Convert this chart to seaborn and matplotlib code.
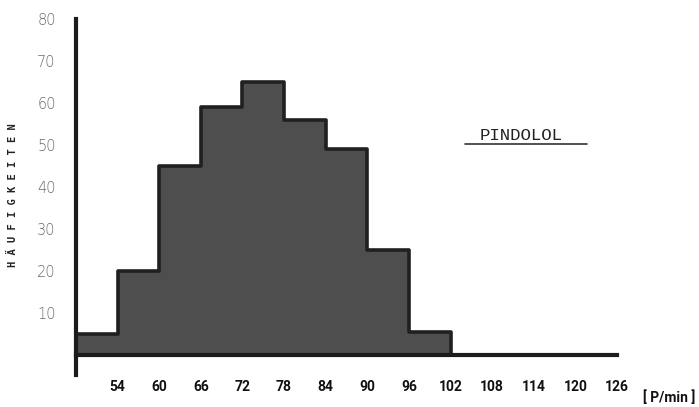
import matplotlib
matplotlib.use("Agg")
import matplotlib.pyplot as plt
from matplotlib.lines import Line2D
import seaborn as sns
import pandas as pd

# ---- data ----
bin_edges = [48, 54, 60, 66, 72, 78, 84, 90, 96, 102]
counts = [5, 20, 45, 59, 65, 56, 49, 25, 5.5]
x_ticks = [54, 60, 66, 72, 78, 84, 90, 96, 102, 108, 114, 120, 126]
y_ticks = [10, 20, 30, 40, 50, 60, 70, 80]
title_text = "PINDOLOL"
y_label = "HÄUFIGKEITEN"
x_unit = "[ P/min ]"

df = pd.DataFrame({
    "puls": [(a + b) / 2 for a, b in zip(bin_edges[:-1], bin_edges[1:])],
    "n": counts,
})

sns.set_style("white")
plt.rcParams["font.family"] = ["DejaVu Sans"]

fig = plt.figure(figsize=(6.99, 4.07), dpi=100)
ax = fig.add_axes([0.1087, 0.0786, 0.774, 0.8747])

sns.histplot(data=df, x="puls", weights="n", bins=bin_edges, ax=ax,
             color="#4e4e4e", alpha=1.0, edgecolor="#202020", linewidth=2.6,
             element="step", fill=True)

ax.set_xlim(48, 126)
ax.set_ylim(-4.8, 80)

ink = "#1c1c1c"
for s in ["top", "right"]:
    ax.spines[s].set_visible(False)
ax.spines["left"].set_color(ink)
ax.spines["left"].set_linewidth(3.0)
ax.spines["bottom"].set_position(("data", 0))
ax.spines["bottom"].set_color(ink)
ax.spines["bottom"].set_linewidth(3.0)
ax.spines["left"].set_bounds(-4.8, 80)

ax.set_xticks(x_ticks)
ax.set_xticklabels([str(v) for v in x_ticks],
                   family=["Roboto", "DejaVu Sans"],
                   fontweight="bold", fontsize=10, color="#111111")
ax.set_yticks(y_ticks)
ax.set_yticklabels([str(v) for v in y_ticks], fontsize=10.5, color="#6a6a6a",
                   fontweight="light")
ax.tick_params(axis="x", direction="out", length=13, width=2.2, color=ink, pad=5)
ax.tick_params(axis="y", direction="out", length=6.5, width=2.0, color=ink, pad=8)
ax.set_xlabel("")
ax.set_ylabel("")

# vertical spaced label
fig.text(12.5 / 699, 1 - 195 / 407, " ".join(y_label), rotation=90,
         ha="center", va="center", fontsize=7.5, fontweight="bold",
         family=["DejaVu Sans Mono"], color="#222222")

# unit label
fig.text(695 / 699, 1 - 398 / 407, x_unit, ha="right", va="center",
         fontsize=10, fontweight="bold",
         family=["Roboto", "DejaVu Sans"], color="#111111")

# title-like label with underline
fig.text(521 / 699, 1 - 136 / 407, title_text, ha="center", va="center",
         fontsize=12.5, family=["Liberation Mono"], color="#222222")
fig.add_artist(Line2D([465 / 699, 587 / 699], [1 - 144 / 407, 1 - 144 / 407],
                      transform=fig.transFigure, color="#333333", linewidth=1.2))

fig.savefig("out.png", dpi=100)
